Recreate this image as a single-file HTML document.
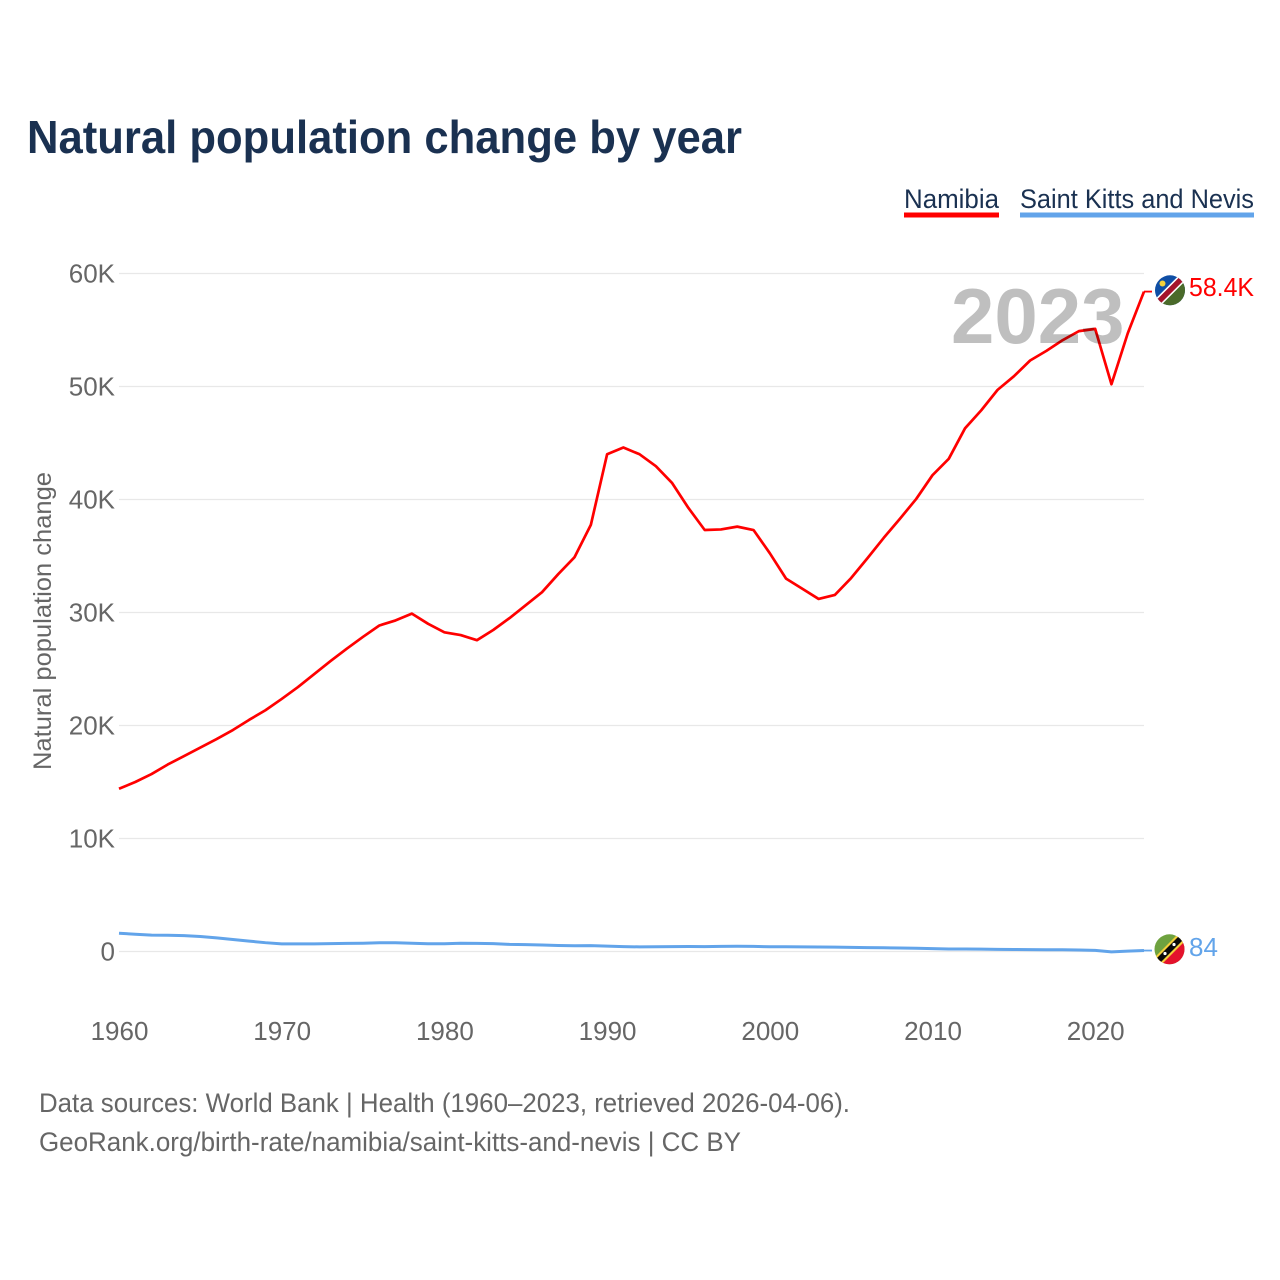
<!DOCTYPE html>
<html lang="en">
<head>
<meta charset="utf-8">
<title>Natural population change by year</title>
<style>
html,body{margin:0;padding:0;background:#fff;width:1280px;height:1280px;overflow:hidden}
svg{display:block;font-family:"Liberation Sans",sans-serif}
</style>
</head>
<body>
<svg id="chart" width="1280" height="1280" viewBox="0 0 1280 1280" xmlns="http://www.w3.org/2000/svg">
<defs>
<clipPath id="clip-namibia"><circle cx="1170" cy="290.3" r="15"/></clipPath>
<clipPath id="clip-skn"><circle cx="1169.5" cy="949.3" r="15"/></clipPath>
</defs>
<rect width="1280" height="1280" fill="#fff"/>
<text x="27" y="153" font-size="46" font-weight="700" fill="#1a3151" textLength="715" lengthAdjust="spacingAndGlyphs">Natural population change by year</text>

<g>
<text x="904" y="208" font-size="27" fill="#1a3151" textLength="95" lengthAdjust="spacingAndGlyphs">Namibia</text>
<rect x="904" y="212.5" width="95" height="5" fill="#ff0000"/>
</g>
<g>
<text x="1020" y="208" font-size="27" fill="#1a3151" textLength="234" lengthAdjust="spacingAndGlyphs">Saint Kitts and Nevis</text>
<rect x="1020" y="212.5" width="234" height="5" fill="#62a4ea"/>
</g>

<g id="grid"></g>
<g id="yticks"></g>
<g id="xticks"></g>
<text transform="translate(51 621) rotate(-90)" text-anchor="middle" font-size="25" fill="#666" textLength="298" lengthAdjust="spacingAndGlyphs">Natural population change</text>

<g id="series"></g>

<text x="951" y="343" font-size="78" font-weight="700" fill="#bfbfbf" style="mix-blend-mode:multiply">2023</text>

<g clip-path="url(#clip-namibia)">
<rect x="1154" y="274" width="32" height="32" fill="#0f4ea5"/>
<polygon points="1186,274.3 1186,306.3 1154,306.3" fill="#4a6a2a"/>
<polygon points="1183,271.3 1189,277.3 1157,309.3 1151,303.3" fill="#fff"/>
<polygon points="1184.1,272.4 1187.9,276.2 1155.9,308.2 1152.1,304.4" fill="#a4132a"/>
<circle cx="1162.5" cy="283.5" r="3" fill="#f5d03a"/>
</g>
<g clip-path="url(#clip-skn)">
<rect x="1153" y="933" width="33" height="33" fill="#6ea23f"/>
<polygon points="1186,933 1186,966 1153,966" fill="#e4122c"/>
<polygon points="1181,931 1188,938 1158,968 1151,961" fill="#f5d03a"/>
<polygon points="1182.5,932.5 1186.5,936.5 1156.5,966.5 1152.5,962.5" fill="#0a0a0a"/>
<circle cx="1174" cy="944.5" r="1.6" fill="#fff"/>
<circle cx="1165" cy="953.5" r="1.6" fill="#fff"/>
</g>
<g id="end-labels"></g>

<text x="39" y="1112" font-size="27" fill="#666" textLength="811" lengthAdjust="spacingAndGlyphs">Data sources: World Bank | Health (1960–2023, retrieved 2026-04-06).</text>
<text x="39" y="1151" font-size="27" fill="#666" textLength="702" lengthAdjust="spacingAndGlyphs">GeoRank.org/birth-rate/namibia/saint-kitts-and-nevis | CC BY</text>
</svg>
<script>
var years = [1960,1961,1962,1963,1964,1965,1966,1967,1968,1969,1970,1971,1972,1973,1974,1975,1976,1977,1978,1979,1980,1981,1982,1983,1984,1985,1986,1987,1988,1989,1990,1991,1992,1993,1994,1995,1996,1997,1998,1999,2000,2001,2002,2003,2004,2005,2006,2007,2008,2009,2010,2011,2012,2013,2014,2015,2016,2017,2018,2019,2020,2021,2022,2023];
var namibia = [14400,15000,15700,16550,17300,18050,18800,19600,20500,21350,22350,23400,24550,25700,26800,27850,28850,29300,29900,29000,28250,28000,27550,28450,29500,30650,31800,33400,34900,37750,44000,44600,44000,42950,41450,39250,37300,37350,37600,37300,35250,33000,32100,31200,31550,33050,34800,36600,38300,40050,42150,43600,46300,47900,49700,50900,52300,53150,54100,54900,55100,50200,54700,58400];
var saintKitts = [1610,1530,1450,1440,1400,1330,1210,1060,920,780,680,670,670,700,720,730,770,770,730,690,690,730,720,700,630,610,570,530,510,520,480,430,410,420,430,440,430,450,460,450,420,420,410,400,390,360,340,330,310,290,250,220,220,210,190,180,170,160,150,130,100,-30,30,84];
var yTickValues = [0,10000,20000,30000,40000,50000,60000];
var yTickLabels = ["0","10K","20K","30K","40K","50K","60K"];
var xTickValues = [1960,1970,1980,1990,2000,2010,2020];
var xTickLabels = ["1960","1970","1980","1990","2000","2010","2020"];
var namibiaLabel = "58.4K";
var saintKittsLabel = "84";

var NS = "http://www.w3.org/2000/svg";
function xScale(year){ return 119 + (year - 1960) * (1144 - 119) / (2023 - 1960); }
function yScale(value){ return 951.5 - value * (951.5 - 273.5) / 60000; }
function make(tag, attrs, parent, text){
  var el = document.createElementNS(NS, tag);
  for (var k in attrs) el.setAttribute(k, attrs[k]);
  if (text !== undefined) el.textContent = text;
  parent.appendChild(el);
  return el;
}
var grid = document.getElementById("grid");
var yticks = document.getElementById("yticks");
var xticks = document.getElementById("xticks");
var seriesGroup = document.getElementById("series");
var endLabels = document.getElementById("end-labels");

yTickValues.forEach(function(v, i){
  var line = make("line", {x1:119, x2:1144, y1:yScale(v), y2:yScale(v), stroke:"#e8e8e8", "stroke-width":1.2}, grid);
  
  
  var label = make("text", {x:115, y:yScale(v) + 9, "text-anchor":"end", "font-size":26, fill:"#666"}, yticks, yTickLabels[i]);
  
  
});
xTickValues.forEach(function(v, i){
  var label = make("text", {x:xScale(v) + 0.5, y:1040, "text-anchor":"middle", "font-size":26, fill:"#666"}, xticks, xTickLabels[i]);
  
  
});
function linePoints(values){
  return values.map(function(v, i){ return xScale(years[i]).toFixed(2) + "," + yScale(v).toFixed(2); }).join(" ");
}
var lineBlue = make("polyline", {points:linePoints(saintKitts), fill:"none", stroke:"#62a4ea", "stroke-width":3, "stroke-linejoin":"round"}, seriesGroup);


var lineRed = make("polyline", {points:linePoints(namibia), fill:"none", stroke:"#ff0000", "stroke-width":2.7, "stroke-linejoin":"round"}, seriesGroup);



var lastRed = namibia[namibia.length - 1];
var lastBlue = saintKitts[saintKitts.length - 1];
var leaderRed = make("line", {x1:1144, x2:1152, y1:yScale(lastRed), y2:yScale(lastRed), stroke:"#ff0000", "stroke-width":1.8}, seriesGroup);


var leaderBlue = make("line", {x1:1144, x2:1152, y1:yScale(lastBlue), y2:yScale(lastBlue), stroke:"#62a4ea", "stroke-width":1.8}, seriesGroup);



var endRed = make("text", {x:1189, y:296, "font-size":26, fill:"#ff0000", textLength:65, lengthAdjust:"spacingAndGlyphs"}, endLabels, namibiaLabel);


var endBlue = make("text", {x:1189, y:956, "font-size":26, fill:"#62a4ea"}, endLabels, saintKittsLabel);


</script>
</body>
</html>
